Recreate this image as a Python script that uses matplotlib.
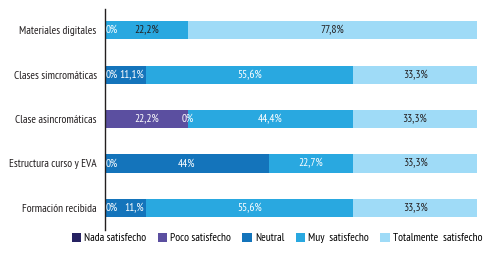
import matplotlib.pyplot as plt
import numpy as np

plt.rcParams['font.family'] = ['PT Sans Narrow', 'Fira Sans Condensed', 'Roboto Condensed',
                               'Asap Condensed', 'Lato', 'DejaVu Sans']

categorias = ['Materiales digitales', 'Clases simcromáticas', 'Clase asincromáticas',
              'Estructura curso y EVA', 'Formación recibida']
series = ['Nada satisfecho', 'Poco satisfecho', 'Neutral', 'Muy  satisfecho', 'Totalmente  satisfecho']
colores = ['#262262', '#5b4fa0', '#1474bb', '#29a8e0', '#9fdbf7']

nada = [0, 0, 0, 0, 0]
poco = [0, 0, 22.2, 0, 0]
neutral = [0, 11.1, 0, 44, 11.1]
muy = [22.2, 55.6, 44.4, 22.7, 55.6]
totalmente = [77.8, 33.3, 33.3, 33.3, 33.3]

# etiquetas tal como aparecen (None = sin etiqueta)
etq_nada = ['0%', '0%', None, '0%', '0%']
etq_poco = [None, None, '22,2%', None, None]
etq_neutral = [None, '11,1%', '0%', '44%', '11,%']
etq_muy = ['22,2%', '55,6%', '44,4%', '22,7%', '55,6%']
etq_total = ['77,8%', '33,3%', '33,3%', '33,3%', '33,3%']

datos = [nada, poco, neutral, muy, totalmente]
etiquetas = [etq_nada, etq_poco, etq_neutral, etq_muy, etq_total]

fs = 8.2
fig = plt.figure(figsize=(5.01, 2.57), dpi=100)
ax = fig.add_axes([0.2096, 0.105, 0.743, 0.86])

y = np.arange(len(categorias))
izq = np.zeros(len(categorias))
for i in range(len(series)):
    vals = np.array(datos[i])
    ax.barh(y, vals, left=izq, height=0.41, color=colores[i], label=series[i])
    for j in range(len(categorias)):
        t = etiquetas[i][j]
        if t is None:
            continue
        color_txt = '#231f20' if (i == 4 or (i == 3 and j == 0)) else 'white'
        if vals[j] == 0 and izq[j] == 0:
            ax.text(0.1, y[j], t, ha='left', va='center', fontsize=fs, color=color_txt)
        elif 0 < vals[j] < 15:
            # segmento corto: etiqueta pegada al final
            ax.text(izq[j] + vals[j] - 0.6, y[j], t, ha='right', va='center', fontsize=fs, color=color_txt)
        else:
            ax.text(izq[j] + vals[j] / 2, y[j], t, ha='center', va='center', fontsize=fs, color=color_txt)
    izq += vals

ax.set_xlim(0, 100)
ax.set_ylim(4.5, -0.48)
ax.set_yticks(y)
ax.set_yticklabels(categorias, fontsize=fs, color='#231f20')
ax.set_xticks([])
ax.tick_params(axis='y', length=0, pad=6)
for s in ['top', 'right', 'bottom']:
    ax.spines[s].set_visible(False)
ax.spines['left'].set_color('#231f20')
ax.spines['left'].set_linewidth(1.0)

fig.legend(loc='center', bbox_to_anchor=(0.553, 0.074), ncol=5, frameon=False,
           fontsize=fs, handlelength=0.8, handleheight=0.8, handletextpad=0.3,
           columnspacing=1.0, borderpad=0)

plt.savefig('out.png', dpi=100)
